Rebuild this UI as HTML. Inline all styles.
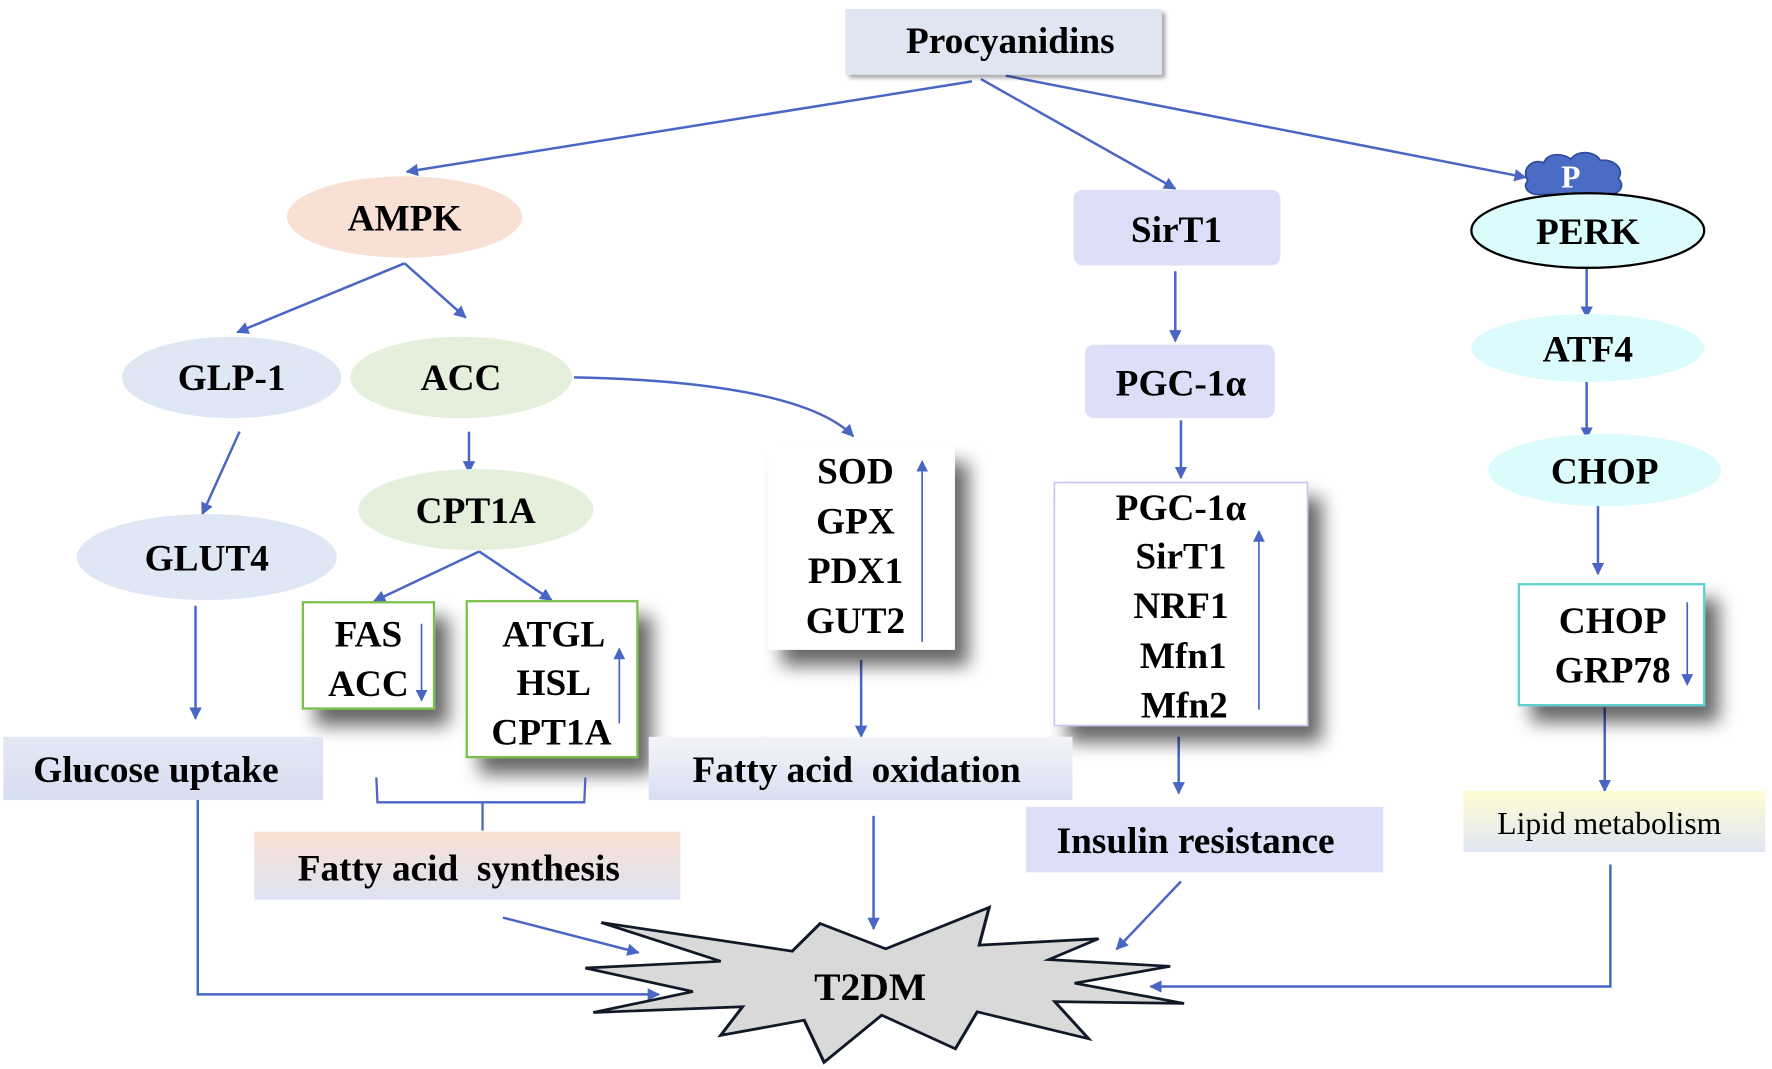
<!DOCTYPE html>
<html><head><meta charset="utf-8"><style>
html,body{margin:0;padding:0;background:#fff;}
svg{display:block;}
text{font-family:"Liberation Serif",serif;font-weight:bold;fill:#000;}
</style></head><body>
<svg width="1772" height="1069" viewBox="0 0 1568 946" preserveAspectRatio="none" xmlns="http://www.w3.org/2000/svg">
<defs>
<filter id="sh" x="-30%" y="-30%" width="170%" height="170%">
<feGaussianBlur in="SourceAlpha" stdDeviation="8"/>
<feOffset dx="12" dy="14" result="b"/>
<feComponentTransfer><feFuncA type="linear" slope="0.6"/></feComponentTransfer>
<feMerge><feMergeNode/><feMergeNode in="SourceGraphic"/></feMerge>
</filter>
<filter id="sh2" x="-20%" y="-30%" width="140%" height="170%">
<feGaussianBlur in="SourceAlpha" stdDeviation="2"/>
<feOffset dx="3" dy="3" result="b"/>
<feComponentTransfer><feFuncA type="linear" slope="0.35"/></feComponentTransfer>
<feMerge><feMergeNode/><feMergeNode in="SourceGraphic"/></feMerge>
</filter>
<marker id="a" viewBox="0 0 10 10" refX="9" refY="5" markerWidth="5" markerHeight="5" orient="auto">
<path d="M0,0 L10,5 L0,10 z" fill="#4a66c4"/></marker>
<marker id="b" viewBox="0 0 10 10" refX="9" refY="5" markerWidth="7" markerHeight="7" orient="auto">
<path d="M0,0 L10,5 L0,10 z" fill="#4a66c4"/></marker>
<linearGradient id="gfao" x1="0" y1="0" x2="0" y2="1"><stop offset="0" stop-color="#f4f5fa"/><stop offset="1" stop-color="#d9def1"/></linearGradient>
<linearGradient id="gfas" x1="0" y1="0" x2="0" y2="1"><stop offset="0" stop-color="#f8e1d2"/><stop offset="1" stop-color="#dfe2f3"/></linearGradient>
<linearGradient id="glip" x1="0" y1="0" x2="0" y2="1"><stop offset="0" stop-color="#fffcd2"/><stop offset="1" stop-color="#e1e6f4"/></linearGradient>
<linearGradient id="gglu" x1="0" y1="0" x2="0" y2="1"><stop offset="0" stop-color="#e3e8f4"/><stop offset="1" stop-color="#d7ddf0"/></linearGradient>
</defs>

<g stroke="#4a66c4" stroke-width="2.2" fill="none" marker-end="url(#a)">
<line x1="860" y1="72" x2="360" y2="152"/>
<line x1="868" y1="70" x2="1040" y2="167"/>
<line x1="890" y1="67" x2="1350" y2="157"/>
<line x1="358" y1="233" x2="210" y2="294"/>
<line x1="358" y1="233" x2="412" y2="281"/>
<path d="M508,334 C620,336 720,350 755,386"/>
<line x1="1040" y1="240" x2="1040" y2="302"/>
<line x1="1404" y1="222" x2="1404" y2="281"/>
<line x1="1404" y1="332" x2="1404" y2="388"/>
<line x1="1414" y1="442" x2="1414" y2="508"/>
<line x1="212" y1="382" x2="179" y2="455"/>
<line x1="415" y1="382" x2="415" y2="418"/>
<line x1="424" y1="488" x2="331" y2="532"/>
<line x1="424" y1="488" x2="488" y2="531"/>
<line x1="1045" y1="372" x2="1045" y2="423"/>
<line x1="173" y1="536" x2="173" y2="636"/>
<line x1="762" y1="584" x2="762" y2="652"/>
<line x1="1043" y1="652" x2="1043" y2="702"/>
<line x1="1420" y1="626" x2="1420" y2="700"/>
<line x1="445" y1="812" x2="565" y2="843"/>
<path d="M175,708 L175,880 L583,880"/>
<line x1="773" y1="722" x2="773" y2="822"/>
<line x1="1045" y1="780" x2="988" y2="840"/>
<path d="M1425,765 L1425,873 L1018,873"/>
</g>

<rect x="748" y="8" width="280" height="58" fill="#dfe6f2" filter="url(#sh2)"/>
<text x="894" y="47" font-size="33" text-anchor="middle">Procyanidins</text>

<ellipse cx="358" cy="192" rx="104" ry="36" fill="#f8e1d4"/>
<text x="358" y="204" font-size="33" text-anchor="middle">AMPK</text>

<rect x="950" y="168" width="183" height="67" rx="8" fill="#dcdff7"/>
<text x="1041" y="214" font-size="33" text-anchor="middle">SirT1</text>

<path d="M1352,160 C1345,148 1358,140 1366,144 C1370,134 1385,136 1390,141 C1396,132 1412,134 1416,142 C1428,140 1438,150 1432,158 C1440,166 1430,174 1420,172 L1358,172 C1350,170 1348,164 1352,160 z" fill="#4a6cc4" stroke="#2f4a99" stroke-width="1.5"/>
<text x="1390" y="166" font-size="28" text-anchor="middle" style="fill:#fff">P</text>
<ellipse cx="1405" cy="204" rx="103" ry="33" fill="#dcfbfd" stroke="#000" stroke-width="2"/>
<text x="1405" y="216" font-size="33" text-anchor="middle">PERK</text>

<ellipse cx="205" cy="334" rx="97" ry="36" fill="#dfe7f4"/>
<text x="205" y="345" font-size="33" text-anchor="middle">GLP-1</text>
<ellipse cx="408" cy="334" rx="98" ry="36" fill="#e4efdc"/>
<text x="408" y="345" font-size="33" text-anchor="middle">ACC</text>

<rect x="960" y="305" width="168" height="65" rx="8" fill="#dcdff7"/>
<text x="1045" y="350" font-size="33" text-anchor="middle">PGC-1α</text>

<ellipse cx="1405" cy="308" rx="103" ry="30" fill="#dcfbfd"/>
<text x="1405" y="320" font-size="33" text-anchor="middle">ATF4</text>
<ellipse cx="1420" cy="416" rx="103" ry="32" fill="#dcfbfd"/>
<text x="1420" y="428" font-size="33" text-anchor="middle">CHOP</text>

<ellipse cx="183" cy="493" rx="115" ry="38" fill="#dfe7f4"/>
<text x="183" y="505" font-size="33" text-anchor="middle">GLUT4</text>
<ellipse cx="421" cy="451" rx="104" ry="36" fill="#e4efdc"/>
<text x="421" y="463" font-size="33" text-anchor="middle">CPT1A</text>

<rect x="268" y="533" width="116" height="94" fill="#fff" stroke="#7ac04a" stroke-width="2" filter="url(#sh)"/>
<text x="326" y="572" font-size="33" text-anchor="middle">FAS</text>
<text x="326" y="616" font-size="33" text-anchor="middle">ACC</text>
<line x1="373" y1="552" x2="373" y2="620" stroke="#4a66c4" stroke-width="1.5" marker-end="url(#b)"/>

<rect x="413" y="532" width="151" height="138" fill="#fff" stroke="#7ac04a" stroke-width="2" filter="url(#sh)"/>
<text x="490" y="572" font-size="33" text-anchor="middle">ATGL</text>
<text x="490" y="615" font-size="33" text-anchor="middle">HSL</text>
<text x="488" y="659" font-size="33" text-anchor="middle">CPT1A</text>
<line x1="548" y1="640" x2="548" y2="574" stroke="#4a66c4" stroke-width="1.5" marker-end="url(#b)"/>

<rect x="680" y="395" width="165" height="180" fill="#fff" filter="url(#sh)"/>
<text x="757" y="428" font-size="33" text-anchor="middle">SOD</text>
<text x="757" y="472" font-size="33" text-anchor="middle">GPX</text>
<text x="757" y="516" font-size="33" text-anchor="middle">PDX1</text>
<text x="757" y="560" font-size="33" text-anchor="middle">GUT2</text>
<line x1="816" y1="568" x2="816" y2="408" stroke="#4a66c4" stroke-width="1.5" marker-end="url(#b)"/>

<rect x="933" y="427" width="224" height="215" fill="#fff" stroke="#c9c6f0" stroke-width="1.5" filter="url(#sh)"/>
<text x="1045" y="460" font-size="33" text-anchor="middle">PGC-1α</text>
<text x="1045" y="503" font-size="33" text-anchor="middle">SirT1</text>
<text x="1045" y="547" font-size="33" text-anchor="middle">NRF1</text>
<text x="1047" y="591" font-size="33" text-anchor="middle">Mfn1</text>
<text x="1048" y="635" font-size="33" text-anchor="middle">Mfn2</text>
<line x1="1114" y1="628" x2="1114" y2="470" stroke="#4a66c4" stroke-width="1.5" marker-end="url(#b)"/>

<rect x="1344" y="517" width="164" height="107" fill="#fff" stroke="#5fd0d0" stroke-width="2" filter="url(#sh)"/>
<text x="1427" y="560" font-size="33" text-anchor="middle">CHOP</text>
<text x="1427" y="604" font-size="33" text-anchor="middle">GRP78</text>
<line x1="1493" y1="533" x2="1493" y2="606" stroke="#4a66c4" stroke-width="1.5" marker-end="url(#b)"/>

<rect x="3" y="652" width="283" height="56" fill="url(#gglu)"/>
<text x="138" y="692" font-size="33" text-anchor="middle">Glucose uptake</text>
<rect x="574" y="652" width="375" height="56" fill="url(#gfao)"/>
<text x="758" y="692" font-size="33" text-anchor="middle" xml:space="preserve">Fatty acid  oxidation</text>
<path d="M333,688 L334,710 L517,710 L518,688 M427,710 L427,735" stroke="#4a66c4" stroke-width="2" fill="none"/>
<rect x="225" y="736" width="377" height="60" fill="url(#gfas)"/>
<text x="406" y="779" font-size="33" text-anchor="middle" xml:space="preserve">Fatty acid  synthesis</text>
<rect x="908" y="714" width="316" height="58" fill="#dcdff7"/>
<text x="1058" y="755" font-size="33" text-anchor="middle">Insulin resistance</text>
<rect x="1295" y="700" width="267" height="54" fill="url(#glip)"/>
<text x="1424" y="738" font-size="28" text-anchor="middle" style="font-weight:normal">Lipid metabolism</text>

<g transform="translate(518,803) scale(0.352,0.298) translate(-45,-60)">
<polygon points="85,105 565,190 635,108 800,183 1060,60 1035,172 1335,153 1210,215 1515,235 1275,285 1550,345 1225,340 1310,450 1030,370 975,480 790,380 645,520 595,395 385,440 440,355 65,372 315,310 45,240 385,220" fill="#d9d9d9" stroke="#111827" stroke-width="8" stroke-linejoin="miter"/>
</g>
<text x="770" y="885" font-size="35" text-anchor="middle">T2DM</text>
</svg>
</body></html>
